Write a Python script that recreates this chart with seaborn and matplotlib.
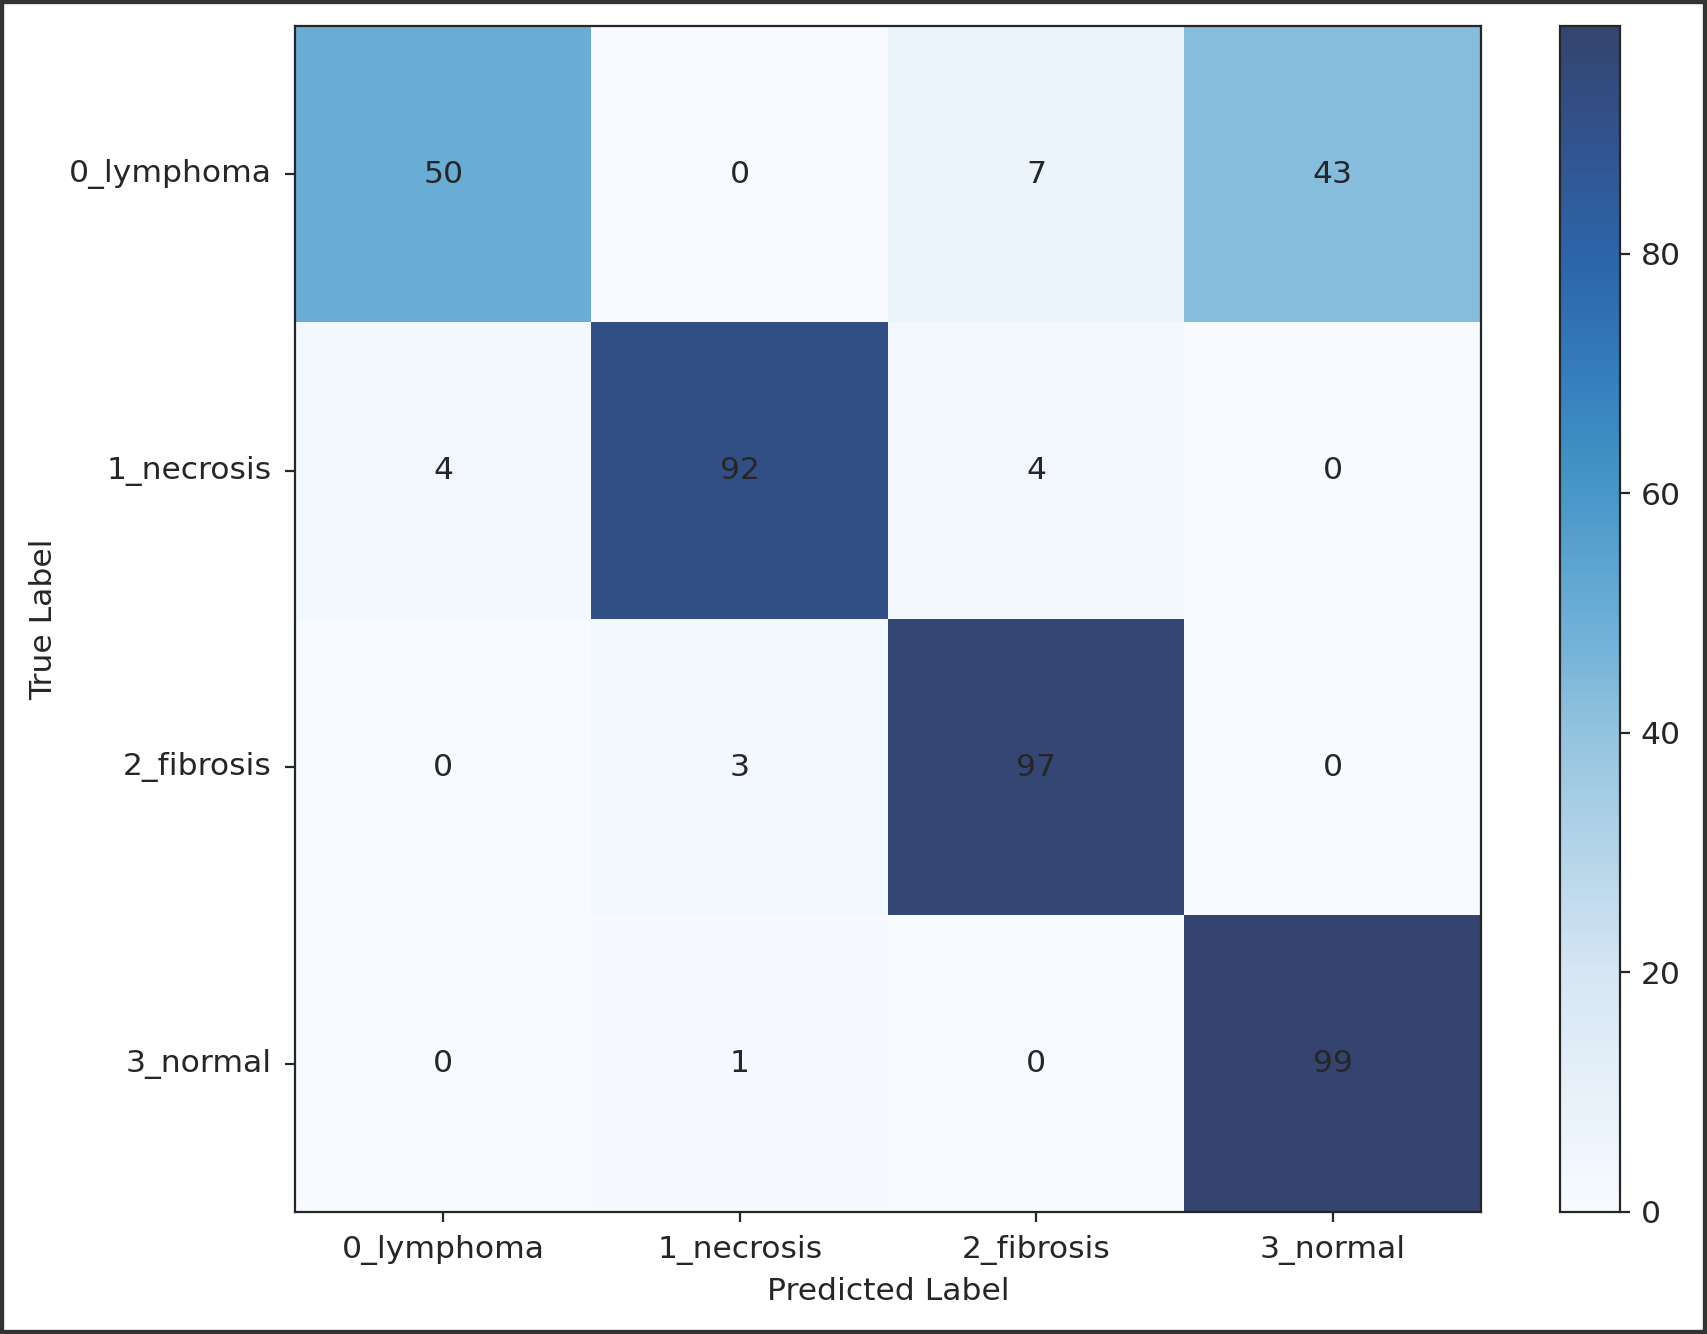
import matplotlib
matplotlib.use("Agg")
import numpy as np
import pandas as pd
import matplotlib.pyplot as plt
import seaborn as sns
from matplotlib.colors import LinearSegmentedColormap
from matplotlib.patches import Rectangle

# ---------------------------------------------------------------------------
# Dati: matrice di confusione (valori in %)
# ---------------------------------------------------------------------------

classi = ["0_lymphoma", "1_necrosis", "2_fibrosis", "3_normal"]

riga_lymphoma = [50, 0, 7, 43]
riga_necrosis = [4, 92, 4, 0]
riga_fibrosis = [0, 3, 97, 0]
riga_normal = [0, 1, 0, 99]

cm = pd.DataFrame(
    [riga_lymphoma, riga_necrosis, riga_fibrosis, riga_normal],
    index=classi,
    columns=classi,
)

# ---------------------------------------------------------------------------
# Stile
# ---------------------------------------------------------------------------

sns.set_style("ticks")
plt.rcParams["font.family"] = ["DejaVu Sans"]
plt.rcParams["text.color"] = ".15"
plt.rcParams["axes.labelcolor"] = ".15"
plt.rcParams["xtick.color"] = ".15"
plt.rcParams["ytick.color"] = ".15"
plt.rcParams["axes.edgecolor"] = ".15"

FS = 11.3

# Blues, ma con l'estremo scuro un po' più "spento" come nel riferimento
blues_mod = LinearSegmentedColormap.from_list(
    "blues_mod",
    [
        (0.0, "#f7fbff"),
        (0.2, "#d6e6f4"),
        (0.4, "#94c4df"),
        (0.5, "#6baed6"),
        (0.6, "#4a98c9"),
        (0.7, "#3580bd"),
        (0.8, "#2c66ab"),
        (0.9, "#31548f"),
        (1.0, "#35446e"),
    ],
)

# ---------------------------------------------------------------------------
# Grafico
# ---------------------------------------------------------------------------

fig = plt.figure(figsize=(8.535, 6.67), dpi=200)
ax = fig.add_axes([0.1716, 0.0915, 0.6972, 0.889])
cax = fig.add_axes([0.9139, 0.0915, 0.0351, 0.889])

sns.heatmap(
    cm,
    cmap=blues_mod,
    vmin=0,
    vmax=99,
    annot=True,
    fmt="d",
    annot_kws={"color": ".15", "fontsize": FS},
    square=True,
    cbar=True,
    cbar_ax=cax,
    ax=ax,
)

for spine in ax.spines.values():
    spine.set_visible(True)
    spine.set_linewidth(0.8)
    spine.set_color(".15")

ax.set_xlabel("Predicted Label", fontsize=FS, labelpad=4.5)
ax.set_ylabel("True Label", fontsize=FS, labelpad=4)
ax.set_xticklabels(ax.get_xticklabels(), rotation=0, fontsize=FS)
ax.set_yticklabels(ax.get_yticklabels(), rotation=0, fontsize=FS)
ax.tick_params(axis="both", length=3.5, width=0.8, color=".15", pad=4.8)

cb = ax.collections[0].colorbar
cb.outline.set_visible(True)
cb.outline.set_linewidth(0.8)
cb.outline.set_edgecolor(".15")
cb.set_ticks([0, 20, 40, 60, 80])
cb.ax.tick_params(labelsize=FS, length=3.5, width=0.8, color=".15", pad=4)

# cornice scura attorno all'immagine
fig.add_artist(
    Rectangle((0, 0), 1, 1, transform=fig.transFigure,
              fill=False, edgecolor="#333333", linewidth=3)
)

fig.savefig("out.png", dpi=200)
plt.close(fig)
